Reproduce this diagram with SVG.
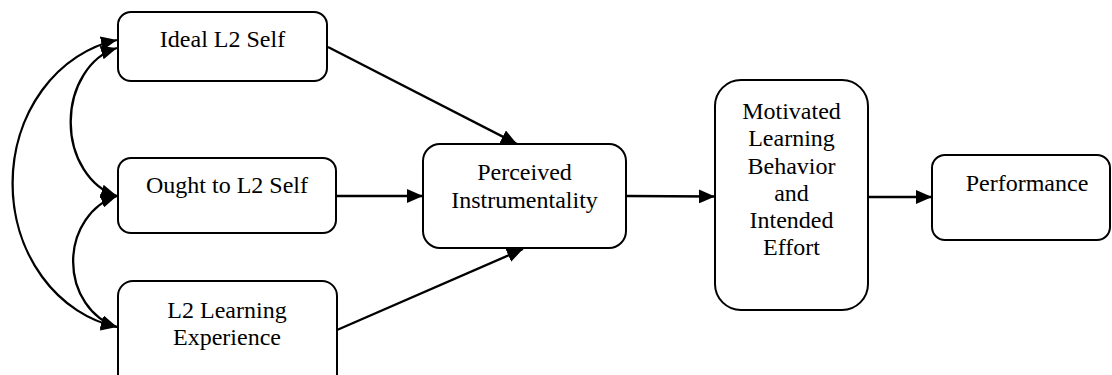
<svg xmlns="http://www.w3.org/2000/svg" width="1112" height="375" viewBox="0 0 1112 375">
  <style>
    .box { fill: #ffffff; stroke: #000000; stroke-width: 2; }
    .lbl { font-family: "Liberation Serif", "Times New Roman", serif; font-size: 24px; fill: #000000; text-anchor: middle; }
    .edge { fill: none; stroke: #000000; stroke-width: 2.3; }
    .one { marker-end: url(#head); }
    .two { marker-start: url(#head); marker-end: url(#head); }
  </style>
  <defs>
    <marker id="head" viewBox="0 0 16 14" refX="16" refY="7" markerWidth="16" markerHeight="14" markerUnits="userSpaceOnUse" orient="auto-start-reverse">
      <path d="M0,0 L16,7 L0,14 Z" fill="#000000"/>
    </marker>
  </defs>
  <rect width="1112" height="375" fill="#ffffff"/>

  <g id="connectors">
    <!-- correlations among the three self/experience factors -->
    <path class="edge two" d="M117,40 A128,146 0 0 0 117,327"/>
    <path class="edge two" d="M117,48 A60,76 0 0 0 117,196"/>
    <path class="edge two" d="M117,196 A60,68 0 0 0 117,327"/>
    <!-- paths into Perceived Instrumentality -->
    <line class="edge one" x1="328" y1="47" x2="517" y2="144"/>
    <line class="edge one" x1="337" y1="196" x2="423" y2="196"/>
    <line class="edge one" x1="337" y1="330" x2="523" y2="249"/>
    <!-- downstream paths -->
    <line class="edge one" x1="626" y1="196" x2="715" y2="196.5"/>
    <line class="edge one" x1="868" y1="197" x2="932" y2="197"/>
  </g>

  <g id="ideal-l2-self">
    <rect class="box" x="118" y="12" width="209" height="69" rx="13"/>
    <text class="lbl" x="222.5" y="47">Ideal L2 Self</text>
  </g>

  <g id="ought-to-l2-self">
    <rect class="box" x="118" y="158" width="218" height="75" rx="13"/>
    <text class="lbl" x="227" y="193">Ought to L2 Self</text>
  </g>

  <g id="l2-learning-experience">
    <rect class="box" x="118" y="281" width="219" height="110" rx="15"/>
    <text class="lbl" x="227" y="318">L2 Learning</text>
    <text class="lbl" x="227" y="345">Experience</text>
  </g>

  <g id="perceived-instrumentality">
    <rect class="box" x="423" y="144" width="203" height="104" rx="17"/>
    <text class="lbl" x="524.5" y="180">Perceived</text>
    <text class="lbl" x="524.5" y="208">Instrumentality</text>
  </g>

  <g id="motivated-learning-behavior">
    <rect class="box" x="715" y="80" width="153" height="230" rx="26"/>
    <text class="lbl" x="791.5" y="119">Motivated</text>
    <text class="lbl" x="791.5" y="146">Learning</text>
    <text class="lbl" x="791.5" y="173.5">Behavior</text>
    <text class="lbl" x="791.5" y="200.5">and</text>
    <text class="lbl" x="791.5" y="228">Intended</text>
    <text class="lbl" x="791.5" y="255">Effort</text>
  </g>

  <g id="performance">
    <rect class="box" x="932" y="155" width="178" height="85" rx="13"/>
    <text class="lbl" x="1027" y="191">Performance</text>
  </g>
</svg>
